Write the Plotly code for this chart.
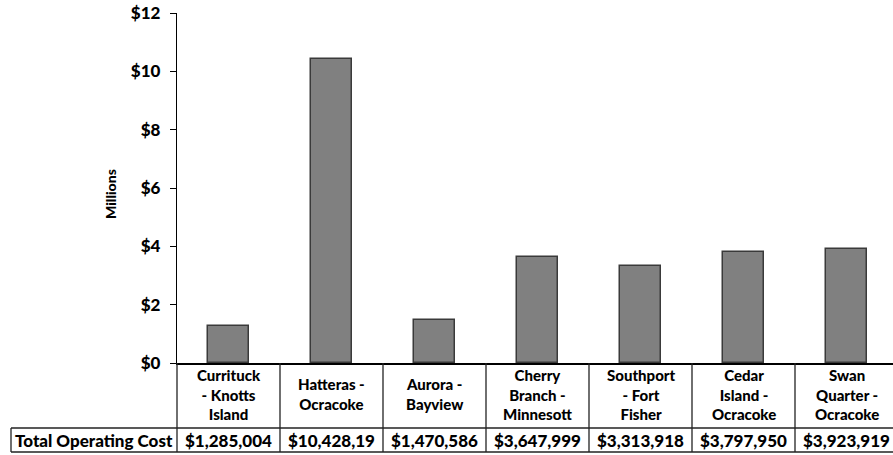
import plotly.graph_objects as go

# ---- data ----
categories = [
    "Currituck<br>- Knotts<br>Island",
    "Hatteras -<br>Ocracoke",
    "Aurora -<br>Bayview",
    "Cherry<br>Branch -<br>Minnesott",
    "Southport<br>- Fort<br>Fisher",
    "Cedar<br>Island -<br>Ocracoke",
    "Swan<br>Quarter -<br>Ocracoke",
]
cost_millions = [1.285004, 10.42819, 1.470586, 3.647999, 3.313918, 3.797950, 3.923919]
cost_labels = ["$1,285,004", "$10,428,19", "$1,470,586", "$3,647,999",
               "$3,313,918", "$3,797,950", "$3,923,919"]
row_title = "Total Operating Cost"
y_title = "Millions"
y_ticks = [0, 2, 4, 6, 8, 10, 12]

FONT = "Lato"
W = 900
n = len(categories)
xs = list(range(n))

fig = go.Figure()
fig.add_trace(go.Bar(
    x=xs, y=cost_millions, width=0.40,
    marker=dict(color="#808080", line=dict(color="#3a3a3a", width=1.5)),
    hoverinfo="skip",
))

# table geometry (paper coords): plot area is 350px tall, 716px wide
def py(pix):
    return (363 - pix) / 350.0

def px(pix):
    return (pix - 177) / 716.0

row_top = py(428)
row_bot = py(452)
left_x = px(11)

shapes = []
line_style = dict(color="#222222", width=1.3)
shapes.append(dict(type="line", xref="paper", yref="paper", x0=0, x1=0,
                   y0=0, y1=row_bot, line=line_style))
for i in range(1, n):
    shapes.append(dict(type="line", xref="x", yref="paper", x0=i - 0.5, x1=i - 0.5,
                       y0=0, y1=row_bot, line=line_style))
for yy in (row_top, row_bot):
    shapes.append(dict(type="line", xref="paper", yref="paper", x0=left_x, x1=1,
                       y0=yy, y1=yy, line=line_style))
shapes.append(dict(type="line", xref="paper", yref="paper", x0=left_x, x1=left_x,
                   y0=row_top, y1=row_bot, line=line_style))

annotations = []
for i, (c, v) in enumerate(zip(categories, cost_labels)):
    annotations.append(dict(x=i, y=py(394), xref="x", yref="paper", text=c,
                            showarrow=False, xanchor="center", yanchor="middle",
                            font=dict(family=FONT, size=15, color="black", weight=W)))
    annotations.append(dict(x=i, y=py(440), xref="x", yref="paper", text=v,
                            showarrow=False, xanchor="center", yanchor="middle",
                            font=dict(family=FONT, size=17, color="black", weight=W)))
annotations.append(dict(x=(left_x) / 2, y=py(440), xref="paper", yref="paper", text=row_title,
                        showarrow=False, xanchor="center", yanchor="middle",
                        font=dict(family=FONT, size=17, color="black", weight=W)))
annotations.append(dict(x=px(110), y=py(194), xref="paper", yref="paper", text=y_title,
                        textangle=-90, showarrow=False, xanchor="center", yanchor="middle",
                        font=dict(family=FONT, size=14, color="black", weight=W)))

fig.update_layout(
    width=893, height=455,
    margin=dict(l=177, r=0, t=13, b=92, pad=0),
    plot_bgcolor="white", paper_bgcolor="white",
    showlegend=False,
    bargap=0,
    shapes=shapes,
    annotations=annotations,
    xaxis=dict(range=[-0.5, 6.4515], showticklabels=False, ticks="",
               showgrid=False, zeroline=False, showline=True,
               linecolor="black", linewidth=2),
    yaxis=dict(range=[0, 12], tickvals=y_ticks,
               ticktext=[f"${t}" for t in y_ticks],
               ticks="outside", ticklen=6, tickcolor="black", tickwidth=1,
               ticklabelstandoff=6,
               showgrid=False, zeroline=False, showline=True,
               linecolor="black", linewidth=1.3,
               tickfont=dict(family=FONT, size=17, color="black", weight=W)),
)

fig.write_html("out.html")
